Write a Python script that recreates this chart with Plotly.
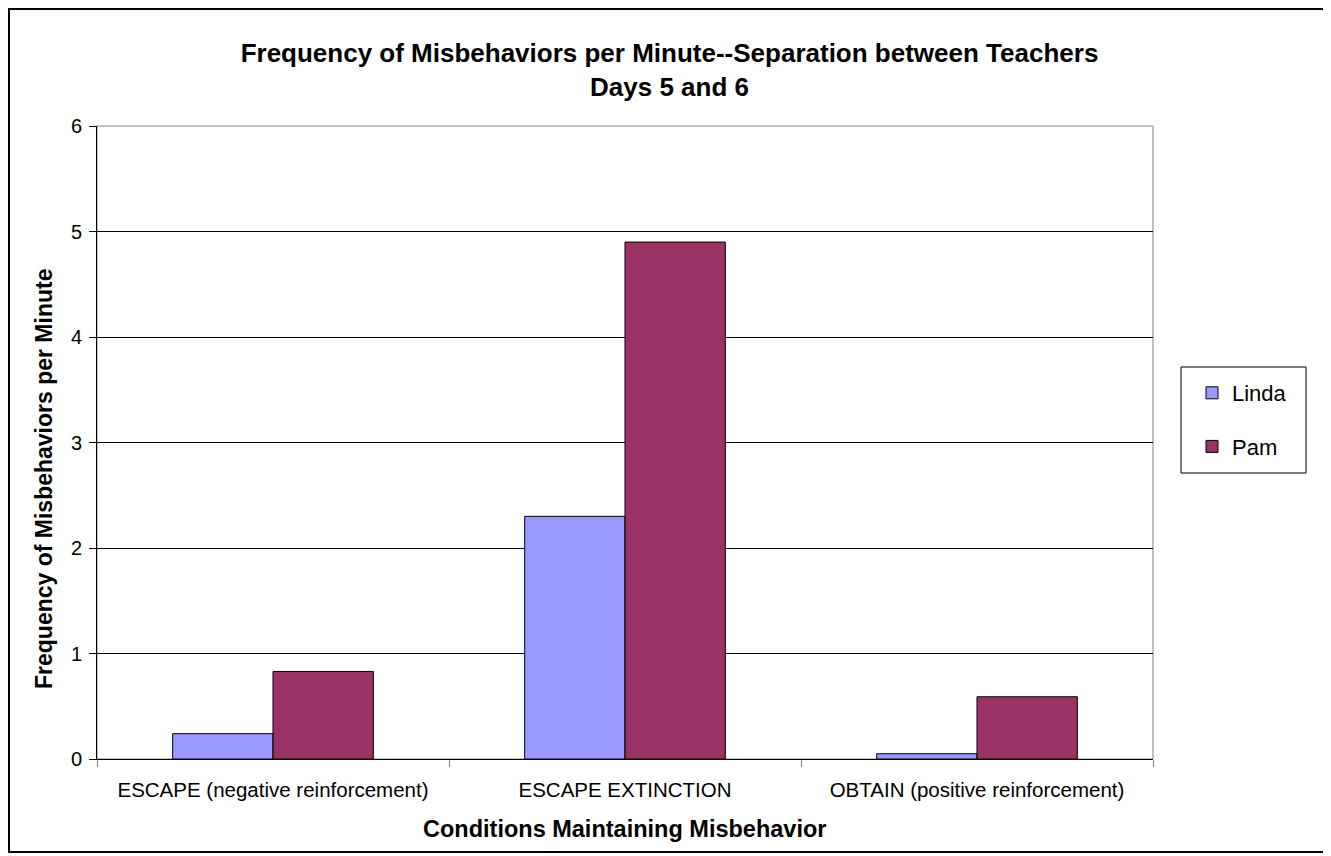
import plotly.graph_objects as go

categories = ["ESCAPE (negative reinforcement)", "ESCAPE EXTINCTION", "OBTAIN (positive reinforcement)"]
linda = [0.24, 2.30, 0.05]
pam = [0.83, 4.90, 0.59]
y_ticks = [0, 1, 2, 3, 4, 5, 6]
series_names = ["Linda", "Pam"]

# the page body adds an 8px offset; figure coordinates = screen - 8
OFF = 8
W, H = 1331 - OFF, 856 - OFF
# plot area in screen pixels
SL, SR, ST, SB = 97, 1153, 126, 759
L, R, T, B = SL - OFF, SR - OFF, ST - OFF, SB - OFF


def px_x(sx):
    """screen x -> paper x"""
    return (sx - SL) / (SR - SL)


def px_y(sy):
    """screen y -> paper y"""
    return (SB - sy) / (SB - ST)


font = "Liberation Sans, Arial, sans-serif"

fig = go.Figure()
fig.add_trace(go.Bar(x=categories, y=linda, name=series_names[0], legendgroup="a",
                     marker=dict(color="#9999FF", line=dict(color="#000000", width=1))))
fig.add_trace(go.Bar(x=categories, y=pam, name=series_names[1], legendgroup="b",
                     marker=dict(color="#993366", line=dict(color="#000000", width=1))))

fig.update_layout(
    width=W, height=H,
    margin=dict(l=L, r=W - R, t=T, b=H - B, autoexpand=False),
    paper_bgcolor="white", plot_bgcolor="white",
    barmode="group", bargap=0.43, bargroupgap=0,
    font=dict(family=font, color="black", size=16),
    title=dict(text="<b>Frequency of Misbehaviors per Minute--Separation between Teachers<br>Days 5 and 6</b>",
               x=0.5, xanchor="center", y=1 - (62 - OFF) / H, yanchor="middle",
               font=dict(size=26, family=font)),
    xaxis=dict(showgrid=False, showline=True, linecolor="black",
               ticks="outside", tickson="boundaries", ticklen=7, tickcolor="#808080",
               tickfont=dict(size=20.5), ticklabelstandoff=12),
    yaxis=dict(range=[0, 6], tickvals=y_ticks, showgrid=True, gridcolor="black", gridwidth=1,
               showline=True, linecolor="black", ticks="outside", ticklen=7, tickcolor="black",
               tickfont=dict(size=20), zeroline=False, ticklabelstandoff=3),
    legend=dict(x=px_x(1192), y=px_y(372), xanchor="left", yanchor="top",
                borderwidth=0, bgcolor="rgba(0,0,0,0)",
                font=dict(size=22), tracegroupgap=22, itemwidth=30),
    showlegend=True,
)

# axis titles as annotations for exact placement
fig.add_annotation(text="<b>Conditions Maintaining Misbehavior</b>", xref="paper", yref="paper",
                   x=px_x(624), y=px_y(829), xanchor="center", yanchor="middle",
                   showarrow=False, font=dict(size=23.5))
fig.add_annotation(text="<b>Frequency of Misbehaviors per Minute</b>", xref="paper", yref="paper",
                   x=px_x(44), y=px_y(479), xanchor="center", yanchor="middle", textangle=-90,
                   showarrow=False, font=dict(size=23))

# plot area border (gray top and right)
fig.add_shape(type="rect", xref="paper", yref="paper", x0=0, y0=0, x1=1, y1=1,
              line=dict(color="#808080", width=1), fillcolor="rgba(0,0,0,0)", layer="below")
# legend box
fig.add_shape(type="rect", xref="paper", yref="paper",
              x0=px_x(1181), x1=px_x(1306), y0=px_y(473), y1=px_y(367),
              line=dict(color="black", width=1), fillcolor="white", layer="below")
# outer chart frame
fig.add_shape(type="rect", xref="paper", yref="paper",
              x0=px_x(OFF + 1), x1=px_x(1327), y0=px_y(852), y1=px_y(OFF + 1),
              line=dict(color="black", width=2), fillcolor="rgba(0,0,0,0)")

fig.write_html("out.html")
